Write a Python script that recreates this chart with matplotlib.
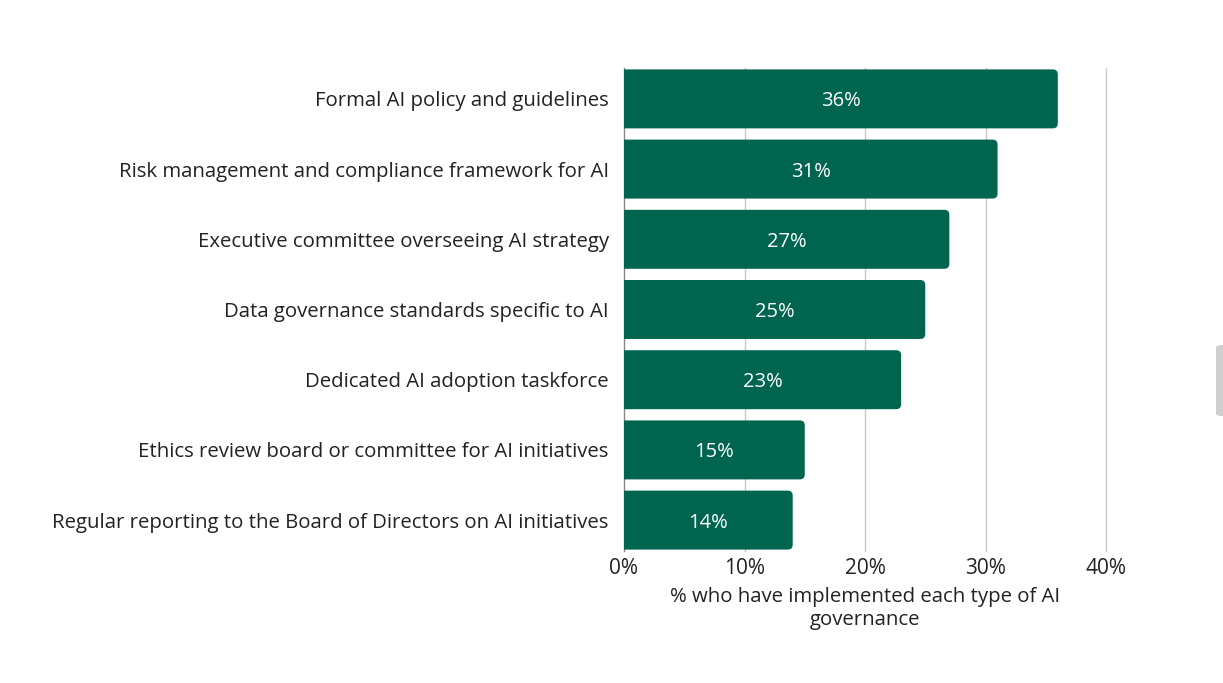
import matplotlib.pyplot as plt
from matplotlib.patches import FancyBboxPatch, PathPatch
from matplotlib.path import Path

categorias = [
    "Formal AI policy and guidelines",
    "Risk management and compliance framework for AI",
    "Executive committee overseeing AI strategy",
    "Data governance standards specific to AI",
    "Dedicated AI adoption taskforce",
    "Ethics review board or committee for AI initiatives",
    "Regular reporting to the Board of Directors on AI initiatives",
]
valores = [36, 31, 27, 25, 23, 15, 14]
ticks_x = [0, 10, 20, 30, 40]
etiqueta_x = "% who have implemented each type of AI\ngovernance"

verde = "#00654f"
gris_texto = "#222222"
plt.rcParams['font.family'] = ['Open Sans', 'DejaVu Sans']

fig = plt.figure(figsize=(12.23, 6.83), dpi=100)
ax = fig.add_axes([624 / 1223, 1 - 551 / 683, (1106 - 624) / 1223, (551 - 68) / 683])

alto = 0.84
ax.set_xlim(0, 40)
ax.set_ylim(len(categorias) - 1 + 0.44, -0.44)

# px por unidad, para redondear solo las esquinas derechas
px_x = (1106 - 624) / 40
px_y = (551 - 68) / (len(categorias) - 1 + 0.88)
rx = 5 / px_x
ry = 5 / px_y


def barra_redondeada(y, v):
    y0, y1 = y - alto / 2, y + alto / 2
    verts = [(0, y0), (v - rx, y0), (v, y0), (v, y0 + ry), (v, y1 - ry),
             (v, y1), (v - rx, y1), (0, y1), (0, y0)]
    codes = [Path.MOVETO, Path.LINETO, Path.CURVE3, Path.CURVE3, Path.LINETO,
             Path.CURVE3, Path.CURVE3, Path.LINETO, Path.CLOSEPOLY]
    return PathPatch(Path(verts, codes), fc=verde, ec="none", zorder=3)


for i, v in enumerate(valores):
    ax.add_patch(barra_redondeada(i, v))
    ax.text(v / 2, i, f"{v}%", color="white", ha="center", va="center_baseline",
            fontsize=14.5, zorder=4)

ax.set_yticks(range(len(categorias)))
ax.set_yticklabels(categorias, fontsize=14.7, color=gris_texto)
ax.set_xticks(ticks_x)
ax.set_xticklabels([f"{t}%" for t in ticks_x], fontsize=15, color=gris_texto)
ax.tick_params(axis="y", length=0, pad=11)
ax.tick_params(axis="x", length=0, pad=5)

for t in ticks_x[1:]:
    ax.axvline(t, color="#c8c8c8", lw=1, zorder=1, clip_on=False)
for lado in ["top", "right", "bottom"]:
    ax.spines[lado].set_visible(False)
ax.spines["left"].set_color("#888888")
ax.spines["left"].set_linewidth(1)

ax.set_xlabel(etiqueta_x, fontsize=14.7, color=gris_texto, labelpad=6, linespacing=1.2)

# barra gris del borde derecho
fig.patches.append(FancyBboxPatch((1216 / 1223, 1 - 416 / 683), 10 / 1223, 71 / 683,
                                  boxstyle="round,pad=0,rounding_size=0.004",
                                  transform=fig.transFigure, fc="#cfcfcf", ec="none"))

fig.savefig("out.png", dpi=100)
plt.close(fig)
